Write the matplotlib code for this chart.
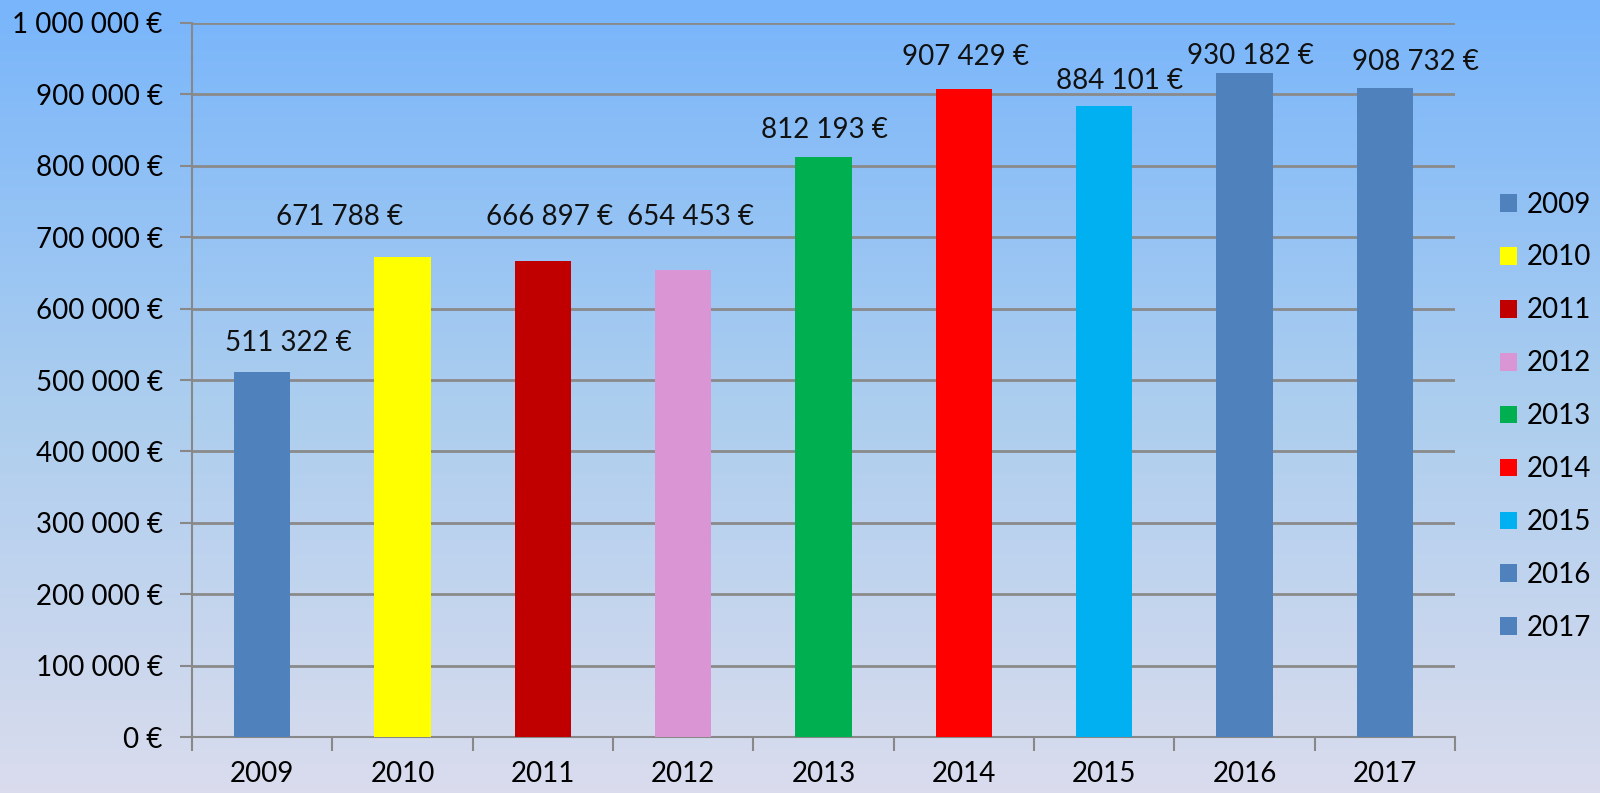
import numpy as np
import matplotlib
matplotlib.use("Agg")
import matplotlib.pyplot as plt
from matplotlib.colors import LinearSegmentedColormap
from matplotlib.ticker import FuncFormatter

plt.rcParams['font.family'] = ['Lato', 'DejaVu Sans']

# --- données ---
years  = ['2009', '2010', '2011', '2012', '2013', '2014', '2015', '2016', '2017']
values = [511322, 671788, 666897, 654453, 812193, 907429, 884101, 930182, 908732]
colors = ['#4f81bd', '#ffff00', '#c00000', '#da96d4', '#00b050',
          '#ff0000', '#00b0f0', '#4f81bd', '#4f81bd']

# position des étiquettes (placées à la main dans l'original)
label_dx = [0.185, -0.45, 0.05, 0.05, 0.01, 0.01, 0.11, 0.04, 0.22]
label_y  = [551800, 728300, 728300, 728300, 850200, 952400, 918800, 953800, 945400]


def euro(v, pos=None):
    return f"{int(v):,} €".replace(",", " ")


fig = plt.figure(figsize=(16, 7.93), dpi=100)

# fond dégradé
bg = fig.add_axes([0, 0, 1, 1], zorder=-10)
cmap = LinearSegmentedColormap.from_list("bg", ['#78b5fb', '#abcdef', '#dadced'])
bg.imshow(np.linspace(0, 1, 256).reshape(-1, 1), aspect='auto', cmap=cmap,
          extent=[0, 1, 0, 1])
bg.axis('off')

ax = fig.add_axes([0.12, 0.0706, 0.7894, 0.9004])
ax.patch.set_alpha(0)

x = np.arange(len(years))
bars = ax.bar(x, values, width=0.4, color=colors, zorder=3)

for i, v in enumerate(values):
    ax.text(x[i] + label_dx[i], label_y[i], euro(v), ha='center', va='center',
            fontsize=20, color='#111111', zorder=4)

ax.set_xlim(-0.5, len(years) - 0.5)
ax.set_ylim(0, 1000000)
ax.set_yticks(np.arange(0, 1000001, 100000))
ax.yaxis.set_major_formatter(FuncFormatter(euro))
ax.set_xticks(x)
ax.set_xticklabels(years)
ax.set_xticks(np.arange(-0.5, len(years)), minor=True)
ax.tick_params(axis='x', which='major', length=0, pad=17, labelsize=20)
ax.tick_params(axis='x', which='minor', length=10, width=1.5, color='#888888')
ax.tick_params(axis='y', length=9, width=1.5, color='#888888', pad=12, labelsize=20)
ax.grid(axis='y', color='#8a8a8a', linewidth=2, zorder=1)

for s in ['top', 'right']:
    ax.spines[s].set_visible(False)
for s in ['left', 'bottom']:
    ax.spines[s].set_color('#888888')
    ax.spines[s].set_linewidth(1.5)

ax.legend(bars, years, loc='center left', bbox_to_anchor=(1500 / 1600, 0.475),
          bbox_transform=fig.transFigure, frameon=False, fontsize=20,
          handlelength=0.61, handleheight=0.61, handletextpad=0.36,
          labelspacing=0.97, borderpad=0, borderaxespad=0)

fig.savefig("out.png", dpi=100)
